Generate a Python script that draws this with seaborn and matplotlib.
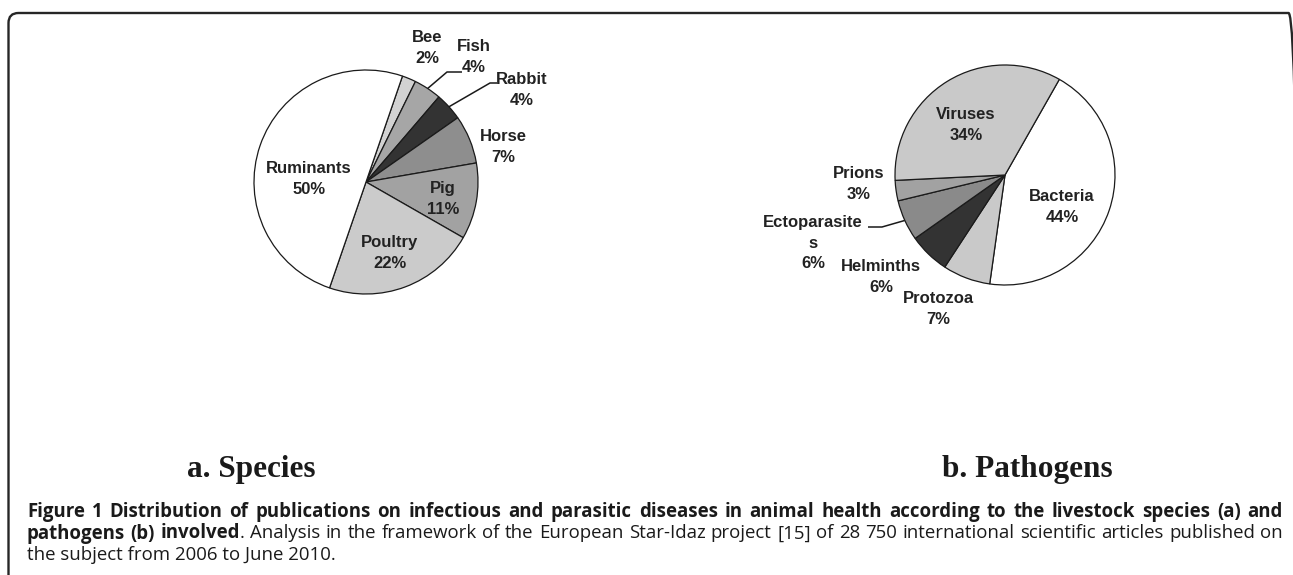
import numpy as np
import matplotlib
matplotlib.use("Agg")
import matplotlib.pyplot as plt
import seaborn as sns
from matplotlib.patches import FancyBboxPatch

# ---------------- data ----------------
species_labels = ["Bee", "Fish", "Rabbit", "Horse", "Pig", "Poultry", "Ruminants"]
species_values = [2, 4, 4, 7, 11, 22, 50]
species_colors = ["#d2d2d2", "#a6a6a6", "#333333", "#8e8e8e", "#a2a2a2", "#cbcbcb", "#ffffff"]

pathogen_labels = ["Bacteria", "Protozoa", "Helminths", "Ectoparasite\ns", "Prions", "Viruses"]
pathogen_values = [44, 7, 6, 6, 3, 34]
pathogen_colors = ["#ffffff", "#c9c9c9", "#333333", "#8a8a8a", "#a2a2a2", "#c9c9c9"]

panel_titles = ["a. Species", "b. Pathogens"]

caption_bold1 = ("Figure 1 Distribution of publications on infectious and parasitic diseases "
                 "in animal health according to the livestock species (a) and")
caption_bold2 = "pathogens (b) involved"
caption_reg2 = (". Analysis in the framework of the European Star-Idaz project [15] of 28 750 "
                "international scientific articles published on")
caption_reg3 = "the subject from 2006 to June 2010."

# ---------------- layout ----------------
W, H = 1293, 575
sns.set_theme(style="white")
plt.rcParams["font.family"] = ["Liberation Sans", "DejaVu Sans"]

fig = plt.figure(figsize=(W / 100, H / 100), dpi=100)
ax = fig.add_axes([0, 0, 1, 1])


def Y(y):
    return H - y


# frame (right edge sits beyond the picture, only the corner shows)
frame = FancyBboxPatch((8.5, -40), 1290, Y(13) + 40,
                       boxstyle="round,pad=0,rounding_size=10",
                       fill=False, edgecolor="#262626", linewidth=1.7,
                       clip_on=True)
ax.add_patch(frame)

wedge_kw = dict(edgecolor="#1a1a1a", linewidth=0.9)

# pie a
wa, _ = ax.pie(species_values, colors=species_colors, startangle=71,
               counterclock=False, center=(366, Y(182)), radius=112,
               wedgeprops=wedge_kw, frame=True)
# pie b
wb, _ = ax.pie(pathogen_values, colors=pathogen_colors, startangle=60.4,
               counterclock=False, center=(1005, Y(175)), radius=110,
               wedgeprops=wedge_kw, frame=True)
ax.set_xlim(0, W)
ax.set_ylim(0, H)
ax.set_aspect("auto")
ax.axis("off")

lab_kw = dict(fontsize=12, fontweight="bold", color="#222222",
              ha="center", va="center", linespacing=1.5)

species_pos = [(427, 48), (474, 57), (522, 90), (503, 147), (443, 199), (390, 253), (309, 179)]
for name, v, (x, y) in zip(species_labels, species_values, species_pos):
    ax.text(x, Y(y), f"{name}\n{v}%", **lab_kw)

pathogen_pos = [(1062, 207), (938, 309), (881, 277), (813, 243), (859, 184), (966, 125)]
for name, v, (x, y) in zip(pathogen_labels, pathogen_values, pathogen_pos):
    ax.text(x, Y(y), f"{name}\n{v}%", **lab_kw)


def rim_point(w, frac=1.0):
    th = np.deg2rad((w.theta1 + w.theta2) / 2)
    cx, cy = w.center
    return cx + w.r * frac * np.cos(th), cy + w.r * frac * np.sin(th)


leaders = [(wa[1], [(447, 72), (462, 72)]),
           (wa[2], [(490, 83), (497, 83)]),
           (wb[3], [(882, 227), (868, 227)])]
for w, pts in leaders:
    x0, y0 = rim_point(w)
    xs = [x0] + [p[0] for p in pts]
    ys = [y0] + [Y(p[1]) for p in pts]
    ax.plot(xs, ys, color="#1a1a1a", linewidth=1.1, solid_capstyle="butt")

# panel titles
for t, cx in zip(panel_titles, [251, 1027]):
    ax.text(cx, Y(477), t, fontsize=22.5, fontweight="bold", family="Liberation Serif",
            color="#1a1a1a", ha="center", va="baseline")

# caption
cap_font = "Open Sans"
cap_size = 13.4
fig.canvas.draw()
renderer = fig.canvas.get_renderer()


def justify(pieces, x0, x1, yb):
    """pieces: list of (text, weight). Words placed to fill [x0, x1]."""
    words = []
    for txt, wgt in pieces:
        toks = txt.split(" ")
        for i, tk in enumerate(toks):
            if tk == "":
                continue
            words.append([tk, wgt, i == 0 and len(words) > 0])
    arts = []
    for tk, wgt, glue in words:
        a = ax.text(0, Y(yb), tk, fontsize=cap_size, family=cap_font, fontweight=wgt,
                    color="#1a1a1a", ha="left", va="baseline")
        arts.append((a, glue))
    widths = [a.get_window_extent(renderer).width for a, _ in arts]
    ngaps = sum(1 for _, g in arts[1:] if not g)
    gap = (x1 - x0 - sum(widths)) / max(ngaps, 1)
    x = x0
    for i, ((a, g), wd) in enumerate(zip(arts, widths)):
        if i > 0 and not g:
            x += gap
        a.set_x(x)
        x += wd


justify([(caption_bold1, "bold")], 27, 1283, 517)
justify([(caption_bold2, "bold"), (caption_reg2, "normal")], 27, 1283, 538.5)
ax.text(27, Y(560), caption_reg3, fontsize=cap_size, family=cap_font,
        color="#1a1a1a", ha="left", va="baseline")

fig.savefig("out.png", dpi=100, facecolor="white")
